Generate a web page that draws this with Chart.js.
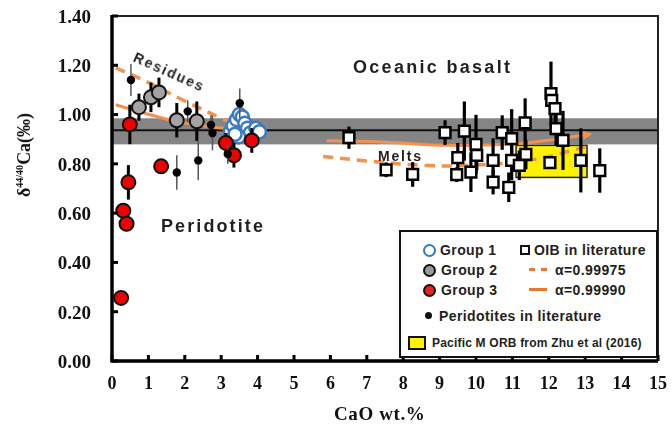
<!DOCTYPE html>
<html><head><meta charset="utf-8">
<script src="https://cdn.jsdelivr.net/npm/chart.js@4"></script>
<style>
html,body{margin:0;padding:0;background:#fff;}
#wrap{position:relative;width:672px;height:431px;overflow:hidden;}
#c{position:absolute;left:0;top:0;}
.t{position:absolute;font-family:Arial,"Liberation Sans",sans-serif;font-weight:bold;color:#231f20;white-space:nowrap;line-height:1;}
.serif{font-family:"Liberation Serif","DejaVu Serif",serif;font-weight:bold;color:#111;}
#legend{position:absolute;left:399px;top:230px;width:259px;height:128px;border:2px solid #111;background:#fff;box-sizing:border-box;}
#legend .m{position:absolute;box-sizing:border-box;}
#legend .t{font-size:14px;letter-spacing:0.4px;transform:translateY(-50%);}
</style></head>
<body>
<div id="wrap">
<canvas id="c" width="672" height="431"></canvas>
<div class="t" style="left:353px;top:58px;font-size:18px;letter-spacing:2.3px;">Oceanic basalt</div>
<div class="t" style="left:161px;top:217px;font-size:18px;letter-spacing:2.1px;">Peridotite</div>
<div class="t" style="left:378px;top:149px;font-size:14px;letter-spacing:1.8px;">Melts</div>
<div class="t" style="left:131px;top:65px;font-size:14px;letter-spacing:1.8px;transform:rotate(24deg);transform-origin:50% 50%;">Residues</div>
<div class="t serif" style="left:334px;top:404px;font-size:19px;letter-spacing:0.6px;">CaO wt.%</div>
<div class="t serif" style="left:24px;top:155px;font-size:18px;transform:translate(-50%,-50%) rotate(-90deg);">δ<sup style="font-size:10px;">44/40</sup>Ca(‰)</div>
<div id="legend">
  <div class="m" style="left:22px;top:12px;width:13px;height:13px;border-radius:50%;border:2.5px solid #2f7ac6;background:#fff;"></div>
  <div class="t" style="left:39px;top:18px;">Group 1</div>
  <div class="m" style="left:22px;top:32px;width:13px;height:13px;border-radius:50%;border:2px solid #111;background:#9a9a9a;"></div>
  <div class="t" style="left:40px;top:38px;">Group 2</div>
  <div class="m" style="left:22px;top:52px;width:13px;height:13px;border-radius:50%;border:2px solid #111;background:#e8231f;"></div>
  <div class="t" style="left:40px;top:58px;">Group 3</div>
  <div class="m" style="left:119px;top:13px;width:10px;height:10px;border:2px solid #111;background:#fff;"></div>
  <div class="t" style="left:133px;top:18px;">OIB in literature</div>
  <div class="m" style="left:128px;top:36px;width:18px;height:0;border-top:3px dashed #e8782a;"></div>
  <div class="t" style="left:154px;top:38px;">α=0.99975</div>
  <div class="m" style="left:128px;top:56px;width:18px;height:0;border-top:3px solid #e8782a;"></div>
  <div class="t" style="left:154px;top:58px;">α=0.99990</div>
  <div class="m" style="left:24px;top:80px;width:7px;height:7px;border-radius:50%;background:#111;"></div>
  <div class="t" style="left:38px;top:84px;">Peridotites in literature</div>
  <div class="m" style="left:7px;top:104px;width:18px;height:14px;border:2px solid #111;background:#fff200;"></div>
  <div class="t" style="left:31px;top:111px;font-size:12px;letter-spacing:0.2px;">Pacific M ORB from Zhu et al (2016)</div>
</div>
</div>
<script>
// ---- data ----
const xTicks = [0,1,2,3,4,5,6,7,8,9,10,11,12,13,14,15];
const yTicks = [0,0.2,0.4,0.6,0.8,1.0,1.2,1.4];

const group1X = [3.25,3.33,3.42,3.5,3.58,3.65,3.72,3.8,3.48,3.95,4.05,3.38];
const group1Y = [0.93,0.955,0.98,1.00,0.99,0.965,0.945,0.925,0.91,0.945,0.93,0.92];
const group1Err = [0.02,0.02,0.02,0.02,0.02,0.02,0.02,0.03,0.03,0.02,0.02,0.02];

const group2X = [0.74,1.07,1.29,1.78,2.33];
const group2Y = [1.03,1.07,1.09,0.977,0.973];
const group2Err = [0.055,0.06,0.06,0.07,0.08];

const group3X = [0.25,0.31,0.40,0.45,0.49,1.35,3.13,3.35,3.84];
const group3Y = [0.256,0.61,0.557,0.725,0.96,0.79,0.885,0.835,0.895];
const group3Err = [0.0,0.0,0.03,0.07,0.08,0.0,0.04,0.05,0.05];

const periX = [0.52,1.78,2.08,2.37,2.72,2.76,3.18,3.51];
const periY = [1.14,0.765,1.013,0.814,0.958,0.925,0.84,1.046];
const periErr = [0.065,0.07,0.045,0.08,0.04,0.07,0.04,0.06];

const oibX = [6.51,7.53,8.26,9.15,9.68,9.5,9.47,10.0,10.02,9.86,10.47,10.47,10.72,10.98,10.9,10.98,11.19,11.37,11.35,12.06,12.08,12.17,12.2,12.39,12.03,12.88,13.4];
const oibY = [0.906,0.776,0.757,0.927,0.933,0.825,0.756,0.879,0.834,0.766,0.814,0.726,0.927,0.902,0.705,0.814,0.794,0.838,0.966,1.085,1.058,1.024,0.943,0.895,0.805,0.814,0.773];
const oibErr = [0.045,0.03,0.05,0.05,0.12,0.06,0.03,0.12,0.06,0.08,0.09,0.05,0.07,0.12,0.06,0.08,0.06,0.06,0.1,0.13,0.05,0.07,0.07,0.12,0,0.13,0.09];

const resDashX = [0.1,1.0,2.0,3.0,3.5];
const resDashY = [1.19,1.13,1.055,0.985,0.95];
const resSolidX = [0.1,0.8,1.6,2.5,3.3];
const resSolidY = [1.04,1.01,0.978,0.955,0.94];
const meltDashX = [5.8,7.0,8.7,10.0,11.5,13.0];
const meltDashY = [0.83,0.812,0.793,0.795,0.815,0.868];
const meltSolidX = [5.9,7.5,9.3,11.2,12.3,13.1];
const meltSolidY = [0.895,0.888,0.875,0.883,0.902,0.92];

const bandLow = 0.879, bandHigh = 0.985, refValue = 0.936;
const morbX = [11.1,13.05];
const morbY = [0.745,0.875];

// ---- helpers ----
const pts = (xs,ys) => xs.map((x,i)=>({x:x,y:ys[i]}));
const ORANGE = '#f2924c';
const serifFont = {family:'"Liberation Serif","DejaVu Serif",serif', size:18, weight:'bold'};

const bgPlugin = {
  id:'bg',
  beforeDatasetsDraw(chart){
    const {ctx, chartArea:a, scales:{x,y}} = chart;
    ctx.save();
    ctx.fillStyle = '#858585';
    const t = y.getPixelForValue(bandHigh), b = y.getPixelForValue(bandLow);
    ctx.fillRect(a.left, t, a.right-a.left, b-t);
    ctx.strokeStyle = '#111'; ctx.lineWidth = 2;
    const r = y.getPixelForValue(refValue);
    ctx.beginPath(); ctx.moveTo(a.left, r); ctx.lineTo(a.right, r); ctx.stroke();
    const x1 = x.getPixelForValue(morbX[0]), x2 = x.getPixelForValue(morbX[1]);
    const y1 = y.getPixelForValue(morbY[1]), y2 = y.getPixelForValue(morbY[0]);
    ctx.fillStyle = '#fff200';
    ctx.fillRect(x1,y1,x2-x1,y2-y1);
    ctx.lineWidth = 1.5; ctx.strokeStyle = '#222';
    ctx.strokeRect(x1,y1,x2-x1,y2-y1);
    ctx.restore();
  }
};

const errPlugin = {
  id:'err',
  beforeDatasetDraw(chart,args){
    const ds = chart.data.datasets[args.index];
    if(!ds.errors) return;
    const ctx = chart.ctx, ys = chart.scales.y;
    ctx.save();
    ctx.strokeStyle = ds.errorColor; ctx.lineWidth = ds.errorWidth;
    args.meta.data.forEach((p,i)=>{
      const e = ds.errors[i]; if(!e) return;
      const v = ds.data[i].y;
      ctx.beginPath();
      ctx.moveTo(p.x, ys.getPixelForValue(v-e));
      ctx.lineTo(p.x, ys.getPixelForValue(v+e));
      ctx.stroke();
    });
    ctx.restore();
  },
  afterDatasetDraw(chart,args){
    const ds = chart.data.datasets[args.index];
    if(!ds.arrow) return;
    const m = args.meta.data, n = m.length;
    const p1 = m[n-2], p2 = m[n-1];
    const ang = Math.atan2(p2.y-p1.y, p2.x-p1.x);
    const ctx = chart.ctx;
    ctx.save();
    ctx.translate(p2.x,p2.y); ctx.rotate(ang);
    ctx.fillStyle = ds.borderColor;
    ctx.beginPath(); ctx.moveTo(4,0); ctx.lineTo(-6,-4.5); ctx.lineTo(-6,4.5); ctx.closePath(); ctx.fill();
    ctx.restore();
  }
};

const framePlugin = {
  id:'frame',
  afterDraw(chart){
    const {ctx, chartArea:a, scales:{x,y}} = chart;
    ctx.save();
    ctx.strokeStyle = '#222'; ctx.lineWidth = 2;
    ctx.beginPath(); ctx.moveTo(a.left, a.top); ctx.lineTo(a.right, a.top); ctx.lineTo(a.right, a.bottom); ctx.stroke();
    ctx.strokeStyle = '#000'; ctx.lineWidth = 3;
    xTicks.forEach(v=>{ const px = x.getPixelForValue(v); ctx.beginPath(); ctx.moveTo(px,a.bottom); ctx.lineTo(px,a.bottom-6); ctx.stroke(); });
    yTicks.forEach(v=>{ const py = y.getPixelForValue(v); ctx.beginPath(); ctx.moveTo(a.left,py); ctx.lineTo(a.left+6,py); ctx.stroke(); });
    ctx.lineWidth = 3.5;
    ctx.beginPath(); ctx.moveTo(a.left, a.top-1); ctx.lineTo(a.left, a.bottom); ctx.lineTo(a.right, a.bottom); ctx.stroke();
    ctx.restore();
  }
};

const lineDs = (label,xs,ys,dash,order,extra) => Object.assign({
  label, data: pts(xs,ys), showLine:true, pointRadius:0, borderColor:ORANGE, backgroundColor:ORANGE,
  borderWidth: dash ? 3.5 : 3, borderDash: dash ? [10,7] : [], tension:0.4, order
}, extra||{});

new Chart(document.getElementById('c'), {
  type:'scatter',
  data:{ datasets:[
    lineDs('residue α=0.99975', resDashX, resDashY, true, 9),
    lineDs('residue α=0.99990', resSolidX, resSolidY, false, 8),
    lineDs('melt α=0.99975', meltDashX, meltDashY, true, 7),
    lineDs('melt α=0.99990', meltSolidX, meltSolidY, false, 6, {arrow:true}),
    { label:'OIB in literature', data:pts(oibX,oibY), errors:oibErr, errorColor:'#000', errorWidth:3.2,
      pointStyle:'rect', pointRadius:7.6, backgroundColor:'#fff', borderColor:'#000', borderWidth:2.5, order:5 },
    { label:'Group 2', data:pts(group2X,group2Y), errors:group2Err, errorColor:'#000', errorWidth:3,
      pointRadius:7, backgroundColor:'#a3a3a3', borderColor:'#111', borderWidth:2, order:4 },
    { label:'Group 1', data:pts(group1X,group1Y), errors:group1Err, errorColor:'#6a64a8', errorWidth:3,
      pointRadius:6.5, backgroundColor:'#fff', borderColor:'#3a7cc3', borderWidth:2.5, order:3 },
    { label:'Group 3', data:pts(group3X,group3Y), errors:group3Err, errorColor:'#000', errorWidth:3,
      pointRadius:7, backgroundColor:'#f00000', borderColor:'#111', borderWidth:2, order:2 },
    { label:'Peridotites in literature', data:pts(periX,periY), errors:periErr, errorColor:'#555', errorWidth:1.5,
      pointRadius:4.2, backgroundColor:'#000', borderColor:'#000', borderWidth:0, order:1 }
  ]},
  options:{
    responsive:false, animation:false, events:[],
    layout:{autoPadding:false, padding:{top:16,right:13,left:0,bottom:0}},
    plugins:{legend:{display:false}, tooltip:{enabled:false}},
    scales:{
      x:{ type:'linear', min:0, max:15, afterFit(s){s.height=70;},
          afterBuildTicks(s){ s.ticks = xTicks.map(v=>({value:v})); },
          ticks:{ font:serifFont, color:'#111', padding:5, maxRotation:0, autoSkip:false },
          grid:{display:false}, border:{display:false} },
      y:{ type:'linear', min:0, max:1.4, afterFit(s){s.width=112;},
          afterBuildTicks(s){ s.ticks = yTicks.map(v=>({value:v})); },
          ticks:{ font:{family:serifFont.family, size:19, weight:'bold'}, color:'#111', padding:3, labelOffset:2, callback:v=>Number(v).toFixed(2) },
          grid:{display:true, drawOnChartArea:false, drawTicks:true, tickLength:18, color:'rgba(0,0,0,0)'},
          border:{display:false} }
    }
  },
  plugins:[bgPlugin, errPlugin, framePlugin]
});
</script>
</body></html>
